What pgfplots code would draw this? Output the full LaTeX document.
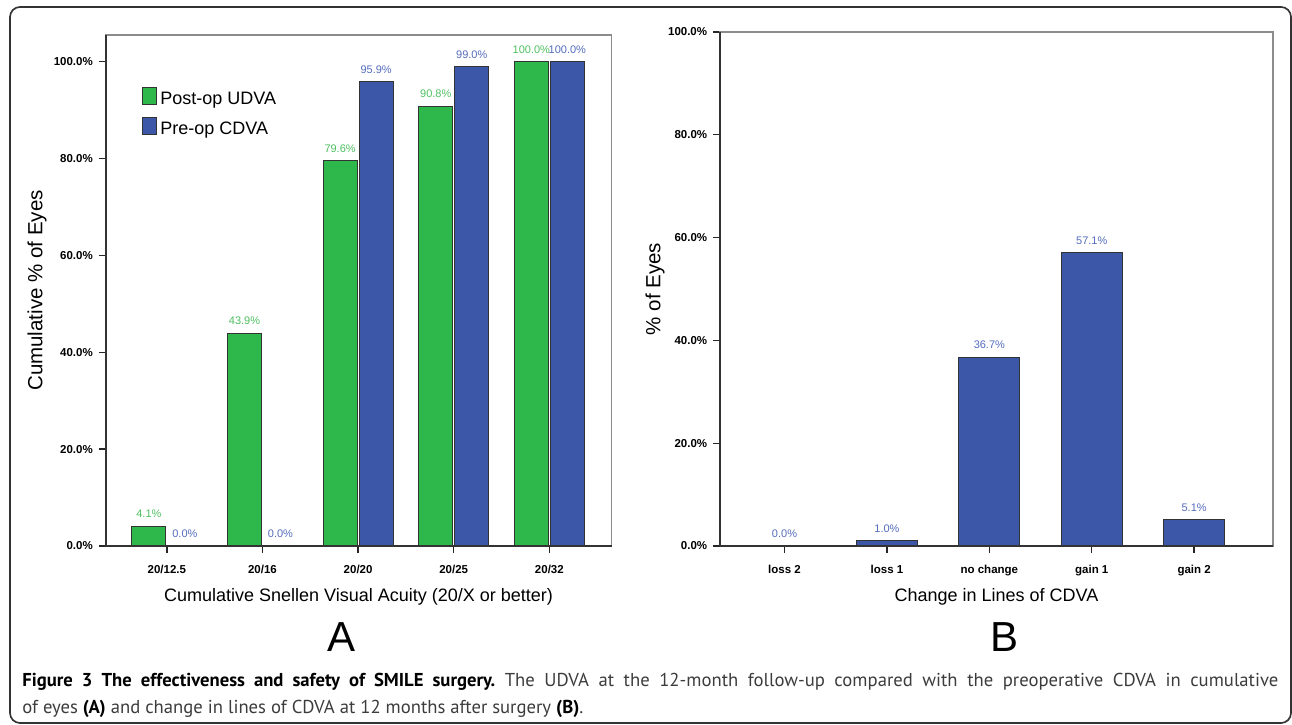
\documentclass[border=0pt]{standalone}
\usepackage{fontspec}
\setmainfont{Liberation Sans}
\newfontfamily\capfont{PT Sans}
\usepackage{pgfplots}
\pgfplotsset{compat=1.18}
\definecolor{barGreen}{RGB}{46,183,74}
\definecolor{barBlue}{RGB}{61,87,168}
\definecolor{lblGreen}{RGB}{78,192,96}
\definecolor{lblBlue}{RGB}{84,108,188}
\definecolor{capGray}{RGB}{60,60,60}
\pgfkeys{/pgf/number format/assume math mode=true}
\pgfplotsset{
  common/.style={
    scale only axis,
    ybar,
    enlargelimits=false,
    ymin=0,
    ytick={0,20,40,60,80,100},
    yticklabel={\pgfmathprintnumber[fixed,fixed zerofill,precision=1]{\tick}\%},
    xtick={0,1,2,3,4},
    tick pos=left,
    tick align=outside,
    major tick length=4.2pt,
    tick style={black!85, line width=0.8pt},
    axis line style={black!45, line width=1pt},
    extra description/.code={\draw[black!80, line width=1pt] (rel axis cs:0,1) -- (rel axis cs:0,0) -- (rel axis cs:1,0);},
    ticklabel style={font=\fontsize{6.9}{8}\selectfont\bfseries},
    xticklabel style={yshift=-3.6pt},
    label style={font=\fontsize{10.8}{12}\selectfont},
    ylabel style={font=\fontsize{12.3}{14}\selectfont},
    nodes near coords={\pgfmathprintnumber[fixed,fixed zerofill,precision=1]{\pgfplotspointmeta}\%},
    every node near coord/.append style={font=\fontsize{6.6}{7}\selectfont, anchor=south, inner sep=0pt, yshift=4.7pt},
  }
}
\begin{document}
\frenchspacing
\begin{tikzpicture}
\useasboundingbox (0,0) rectangle (775.2pt,-435pt);
\draw[line width=1pt, black!80, rounded corners=6pt] (6pt,-4.2pt) rectangle (774.6pt,-433.8pt);

\begin{axis}[common,
  at={(63.4pt,-327.6pt)}, anchor=south west,
  width=303.5pt, height=306.6pt,
  xmin=-0.64, xmax=4.65, ymax=105.5,
  xticklabels={20/12.5,20/16,20/20,20/25,20/32},
  xlabel={Cumulative Snellen Visual Acuity (20/X or better)},
  ylabel={Cumulative \% of Eyes},
  xlabel style={at={(axis description cs:0.5,-0.0998)}, anchor=center},
  ylabel style={at={(axis description cs:-0.1358,0.5)}, anchor=center},
  legend image code/.code={\draw[#1] (0pt,-0.28em) rectangle (8.4pt,0.72em);},
  legend cell align=left,
  legend style={at={(axis description cs:0.0718,0.898)}, anchor=north west, draw=none, fill=none,
    inner sep=0pt, font=\fontsize{10.8}{12}\selectfont, row sep=6pt,
    nodes={inner sep=0pt},
    /tikz/every odd column/.append style={column sep=1.8pt}},
]
\addplot[fill=barGreen, draw=black!80, line width=0.6pt, bar width=20.4pt, bar shift=-10.8pt,
  every node near coord/.append style={text=lblGreen}]
  coordinates {(0,4.1) (1,43.9) (2,79.6) (3,90.8) (4,100.0)};
\addplot[fill=barBlue, draw=black!80, line width=0.6pt, bar width=20.4pt, bar shift=10.8pt,
  every node near coord/.append style={text=lblBlue}]
  coordinates {(0,0.0) (1,0.0) (2,95.9) (3,99.0) (4,100.0)};
\legend{Post-op UDVA, Pre-op CDVA}
\end{axis}

\begin{axis}[common,
  at={(432pt,-327.6pt)}, anchor=south west,
  width=331.8pt, height=308.4pt,
  xmin=-0.63, xmax=4.77, ymax=100,
  xticklabels={loss 2,loss 1,no change,gain 1,gain 2},
  xlabel={Change in Lines of CDVA},
  ylabel={\% of Eyes},
  xlabel style={at={(axis description cs:0.5,-0.0992)}, anchor=center},
  ylabel style={at={(axis description cs:-0.1175,0.5)}, anchor=center},
]
\addplot[fill=barBlue, draw=black!80, line width=0.6pt, bar width=36.6pt, bar shift=0pt,
  every node near coord/.append style={text=lblBlue}]
  coordinates {(0,0.0) (1,1.0) (2,36.7) (3,57.1) (4,5.1)};
\end{axis}

\node[font=\fontsize{25.2}{28}\selectfont, inner sep=0pt] at (205.2pt,-382.2pt) {A};
\node[font=\fontsize{25.2}{28}\selectfont, inner sep=0pt] at (602.4pt,-382.2pt) {B};

\node[anchor=base west, inner sep=0pt, font=\capfont\fontsize{11.2}{13}\selectfont] at (13.2pt,-411.6pt)
  {\makebox[753.6pt][s]{\textbf{Figure 3 The effectiveness and safety of SMILE surgery.} \textcolor{capGray}{The UDVA at the 12-month follow-up compared with the preoperative CDVA in cumulative}}};
\node[anchor=base west, inner sep=0pt, font=\capfont\fontsize{11.2}{13}\selectfont] at (13.2pt,-427.8pt)
  {\textcolor{capGray}{of eyes} \textbf{(A)} \textcolor{capGray}{and change in lines of CDVA at 12 months after surgery} \textbf{(B)}\textcolor{capGray}{.}};
\end{tikzpicture}
\end{document}
